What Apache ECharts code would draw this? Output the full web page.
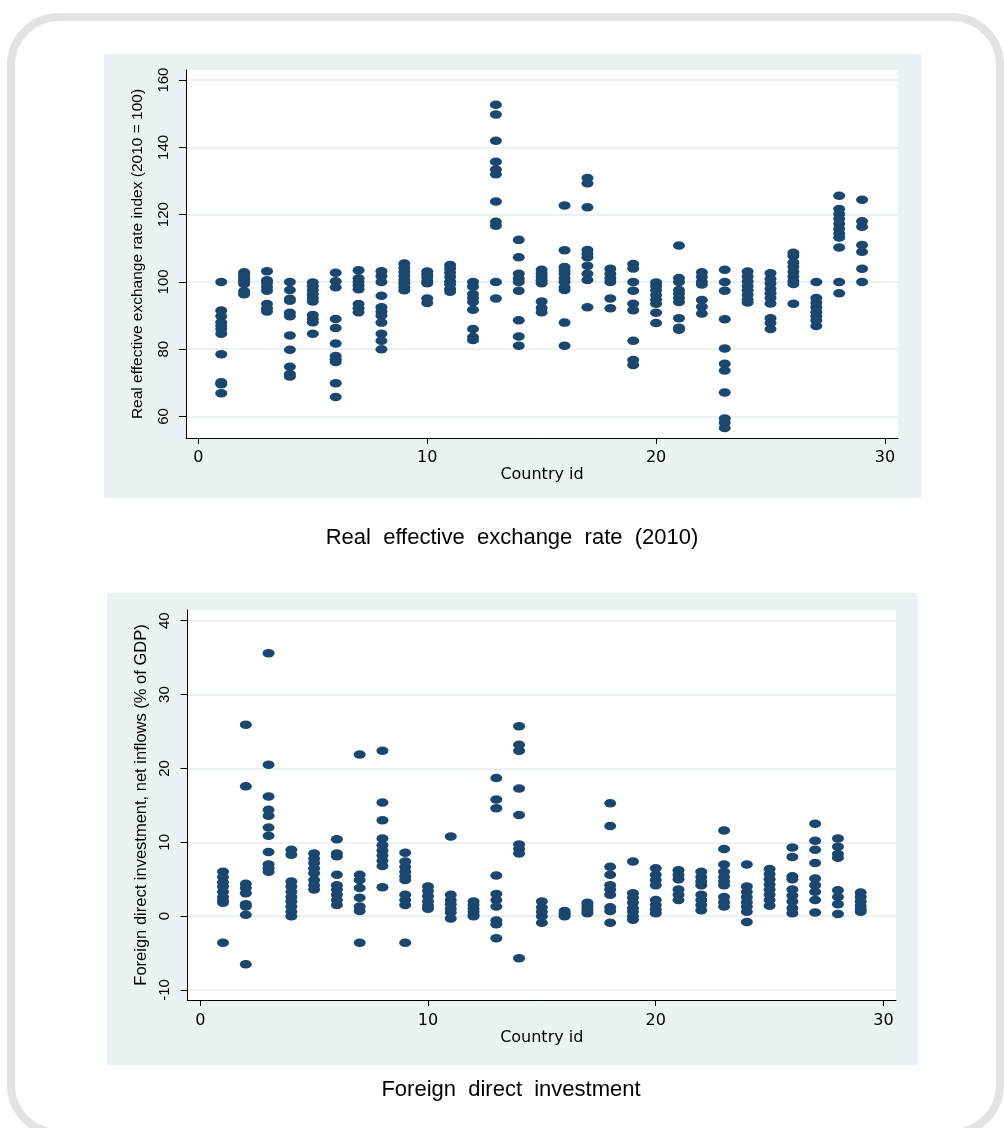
<!DOCTYPE html>
<html><head><meta charset="utf-8">
<script src="https://cdn.jsdelivr.net/npm/echarts@6.0.0/dist/echarts.min.js"></script>
<style>html,body{margin:0;padding:0;background:#fff}#c{width:1004px;height:1128px}</style>
</head><body><div id="c"></div>
<script>
const countryIds = [1,2,3,4,5,6,7,8,9,10,11,12,13,14,15,16,17,18,19,20,21,22,23,24,25,26,27,28,29];
const reerValues = [
  [100, 91.5, 89.8, 88, 87, 86, 84.6, 78.5, 70.2, 69.6, 66.9],
  [102.9, 102.2, 101.4, 100.7, 100, 99.4, 97.2, 96.3],
  [103.2, 100.5, 99.7, 98.5, 97.4, 93.4, 92.2, 91.2],
  [100, 97.6, 95, 94.4, 90.8, 89.8, 84.1, 79.8, 74.8, 72.6, 71.9],
  [99.8, 98.7, 97.6, 96.3, 95.2, 94.2, 90.2, 89.0, 88.0, 84.6],
  [102.7, 100.2, 98.4, 89, 86.3, 81.7, 78, 77, 76.2, 69.9, 65.8],
  [103.5, 101.1, 100, 98.9, 97.8, 93.4, 92.2, 91.0],
  [103.2, 101.7, 100, 95.9, 92.5, 91.2, 90, 87.9, 84.6, 82.5, 80],
  [105.5, 104.2, 103, 101.8, 100.6, 99.5, 98.4, 97.5],
  [103.1, 102.2, 101.3, 100.3, 99.6, 95.1, 93.7],
  [105, 104, 102.8, 101.5, 100.2, 99.3, 97.9, 97.1],
  [100, 98.6, 96.4, 95.2, 94, 91.7, 86, 83.6, 82.7],
  [152.7, 149.8, 142, 135.7, 133.4, 132, 123.9, 117.9, 116.7, 100, 95.1],
  [112.5, 107.3, 102.4, 101, 100, 97.4, 88.6, 83.8, 81],
  [103.6, 102.5, 101.5, 100.5, 99.6, 94.2, 92.3, 91],
  [122.7, 109.4, 104.4, 103.3, 102.4, 101.2, 100, 98.4, 97.6, 87.9, 81],
  [130.9, 129.3, 122.2, 109.5, 108.4, 107.3, 104.8, 102.4, 100.6, 92.5],
  [103.9, 102.4, 101.2, 100, 95.1, 92.2],
  [105.3, 104, 100, 97.4, 93.5, 91.6, 82.5, 76.8, 75.3],
  [99.8, 98.7, 97.5, 96.1, 94.8, 93.5, 90.8, 87.8],
  [110.8, 101.2, 100, 97.6, 96.5, 95.2, 94, 89.2, 86.4, 85.8],
  [102.9, 101.5, 100.1, 99.2, 94.6, 92.6, 90.6],
  [103.6, 100, 97.4, 88.9, 80.2, 75.7, 73.7, 67.1, 59.4, 58.1, 56.6],
  [103.1, 101.6, 100.2, 98.8, 97.5, 96.2, 94.8, 93.9],
  [102.6, 100.9, 99.5, 98, 96.6, 95.2, 93.6, 89.2, 87.8, 86],
  [108.7, 107.7, 105.8, 104.5, 103, 101.6, 100.3, 99.4, 93.5],
  [100, 95.2, 93.8, 92.5, 91, 89.7, 88.5, 86.9],
  [125.6, 121.7, 120.2, 118.8, 117.3, 115.8, 114.4, 113.2, 110.2, 100, 96.6],
  [124.4, 118, 116.4, 111, 109, 103.9, 100]
];
const fdiValues = [
  [6.0, 5.3, 4.6, 4.0, 3.3, 2.6, 2.1, 1.8, -3.6],
  [25.9, 17.6, 4.4, 3.8, 3.1, 1.6, 1.3, 0.2, -6.5],
  [35.6, 20.5, 16.2, 14.4, 13.6, 12.0, 10.9, 8.7, 7.0, 6.5, 6.0],
  [9.0, 8.3, 4.7, 4.0, 3.3, 2.6, 2.0, 1.3, 0.6, 0.0],
  [8.5, 7.8, 7.2, 6.5, 5.8, 4.9, 4.2, 3.6],
  [10.4, 8.5, 8.1, 5.6, 4.2, 3.6, 2.9, 2.2, 1.5],
  [21.9, 5.6, 4.9, 3.8, 2.5, 1.3, 0.7, -3.6],
  [22.4, 15.4, 13.0, 10.5, 9.6, 8.9, 8.2, 7.5, 6.8, 3.9],
  [8.6, 7.4, 6.7, 6.0, 5.4, 4.9, 2.9, 2.2, 1.5, -3.6],
  [4.0, 3.4, 2.7, 2.0, 1.4, 1.0],
  [10.8, 2.9, 2.2, 1.6, 1.0, 0.5, -0.3],
  [2.0, 1.5, 1.0, 0.6, 0.2, 0.0],
  [18.7, 15.8, 14.6, 5.5, 3.0, 2.2, 1.3, -0.6, -1.1, -3.0],
  [25.7, 23.2, 22.4, 17.3, 13.7, 9.7, 9.1, 8.5, -5.7],
  [2.0, 1.2, 0.6, 0.0, -0.9],
  [0.7, 0.4, 0.2, 0.0],
  [1.8, 1.4, 1.0, 0.7, 0.4],
  [15.3, 12.2, 6.7, 5.6, 4.2, 3.6, 2.9, 1.2, 0.7, -0.9],
  [7.4, 3.1, 2.5, 1.8, 1.1, 0.6, 0.0, -0.5],
  [6.5, 5.6, 4.9, 4.2, 2.2, 1.5, 0.9, 0.4],
  [6.2, 5.6, 5.0, 3.6, 2.9, 2.2],
  [6.0, 5.3, 4.7, 4.2, 2.9, 2.2, 1.5, 0.8],
  [11.6, 9.1, 7.0, 6.0, 5.3, 4.7, 4.2, 2.6, 1.9, 1.3],
  [7.0, 4.0, 3.3, 2.6, 1.9, 1.3, 0.6, -0.8],
  [6.4, 5.7, 5.0, 4.3, 3.6, 2.9, 2.2, 1.4],
  [9.3, 8.0, 5.4, 5.0, 3.6, 2.8, 2.0, 1.1, 0.4],
  [12.5, 10.2, 9.0, 7.2, 5.1, 4.2, 3.3, 2.2, 0.5],
  [10.5, 9.4, 8.4, 7.9, 3.5, 2.6, 1.6, 0.3],
  [3.2, 2.6, 2.0, 1.4, 0.9, 0.6]
];
const xTicks = [0, 10, 20, 30];
const reerTicks = [60, 80, 100, 120, 140, 160];
const fdiTicks = [-10, 0, 10, 20, 30, 40];
const xTitle = 'Country id';
const reerTitle = 'Real effective exchange rate index (2010 = 100)';
const fdiTitle = 'Foreign direct investment, net inflows (% of GDP)';
const caption1 = 'Real  effective  exchange  rate  (2010)';
const caption2 = 'Foreign  direct  investment';

function pairs(vals) {
  const out = [];
  countryIds.forEach((id, i) => vals[i].forEach(v => out.push([id, v])));
  return out;
}
const navy = '#1a476f';
const gridColor = '#e6eef0';

function xAxisCfg(gi, min, max, labelMargin, gap) {
  return {
    type: 'value', gridIndex: gi, min: min, max: max,
    name: xTitle, nameLocation: 'middle', nameGap: gap,
    nameTextStyle: { fontFamily: 'DejaVu Sans', fontSize: 16, color: '#000' },
    axisLine: { show: true, onZero: false, lineStyle: { color: '#000', width: 1 } },
    axisTick: { show: true, length: 6, customValues: xTicks, lineStyle: { color: '#000' } },
    axisLabel: { customValues: xTicks, margin: labelMargin, fontFamily: 'DejaVu Sans', fontSize: 16, color: '#000' },
    splitLine: { show: false }
  };
}
function yAxisCfg(gi, min, max, ticks, title, gap, fs, labelMargin) {
  return {
    type: 'value', gridIndex: gi, min: min, max: max,
    name: title, nameLocation: 'middle', nameGap: gap, nameRotate: 90,
    nameTextStyle: { fontFamily: 'Liberation Sans', fontSize: fs, color: '#000' },
    axisLine: { show: true, onZero: false, lineStyle: { color: '#000', width: 1 } },
    axisTick: { show: true, length: 7, customValues: ticks, lineStyle: { color: '#000' } },
    axisLabel: { customValues: ticks, rotate: 90, margin: labelMargin, fontFamily: 'Liberation Sans', fontSize: 15, color: '#000' },
    splitLine: { show: true, lineStyle: { color: gridColor, width: 1.5 } }
  };
}

const chart = echarts.init(document.getElementById('c'), null, { renderer: 'canvas' });
chart.setOption({
  backgroundColor: '#fff',
  animation: false,
  graphic: [
    { type: 'rect', z: -10, shape: { x: 11, y: 17, width: 989, height: 1116, r: 48 },
      style: { fill: '#fff', stroke: '#e3e3e3', lineWidth: 8 } },
    { type: 'rect', z: -9, shape: { x: 104, y: 54, width: 817, height: 444 }, style: { fill: '#eaf2f3' } },
    { type: 'rect', z: -9, shape: { x: 107, y: 593, width: 811, height: 472 }, style: { fill: '#eaf2f3' } },
    { type: 'text', z: 5, style: { text: caption1, x: 512, y: 538, align: 'center', verticalAlign: 'middle',
      font: '22px "Liberation Sans", Arial, sans-serif', fill: '#000' } },
    { type: 'text', z: 5, style: { text: caption2, x: 511, y: 1090, align: 'center', verticalAlign: 'middle',
      font: '22px "Liberation Sans", Arial, sans-serif', fill: '#000' } }
  ],
  grid: [
    { left: 186, top: 70, width: 712, height: 368, show: true, backgroundColor: '#fff', borderWidth: 0 },
    { left: 187.5, top: 610, width: 708.5, height: 390, show: true, backgroundColor: '#fff', borderWidth: 0 }
  ],
  xAxis: [ xAxisCfg(0, -0.54, 30.57, 12, 25), xAxisCfg(1, -0.56, 30.55, 13, 27) ],
  yAxis: [
    yAxisCfg(0, 53.6, 163, reerTicks, reerTitle, 40, 15.5, 15),
    yAxisCfg(1, -11.35, 41.45, fdiTicks, fdiTitle, 37, 16.5, 15)
  ],
  series: [
    { type: 'scatter', xAxisIndex: 0, yAxisIndex: 0, data: pairs(reerValues),
      symbol: 'circle', symbolSize: [12, 8.5], itemStyle: { color: navy, opacity: 1 } },
    { type: 'scatter', xAxisIndex: 1, yAxisIndex: 1, data: pairs(fdiValues),
      symbol: 'circle', symbolSize: [12, 8.5], itemStyle: { color: navy, opacity: 1 } }
  ]
});
</script></body></html>
